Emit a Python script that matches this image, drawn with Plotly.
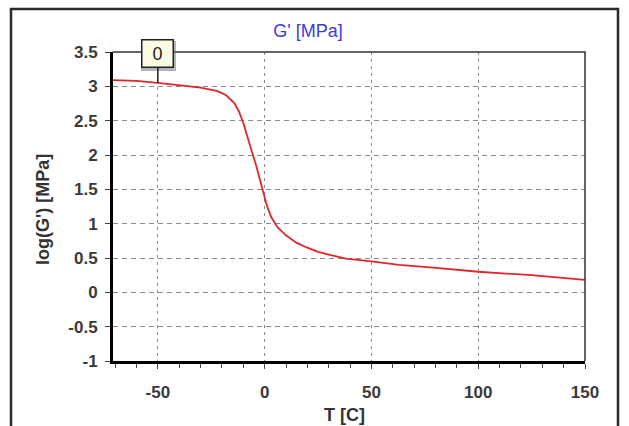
import plotly.graph_objects as go

# Storage modulus vs temperature
temperature_c = [-71, -60, -50, -40, -30, -22, -18, -14, -12, -10, -8, -6, -4, -2, 0, 1, 3, 6,
                 10, 15, 20, 25, 30, 38, 50, 63, 79, 100, 125, 150]
log_g_mpa = [3.09, 3.08, 3.05, 3.02, 2.98, 2.93, 2.87, 2.75, 2.63, 2.47, 2.25, 2.05, 1.85, 1.63,
             1.40, 1.27, 1.10, 0.95, 0.83, 0.72, 0.65, 0.59, 0.55, 0.49, 0.45, 0.40, 0.36, 0.30,
             0.25, 0.18]

x_ticks = [-50, 0, 50, 100, 150]
y_ticks = [-1, -0.5, 0, 0.5, 1, 1.5, 2, 2.5, 3, 3.5]
x_range = [-71, 150]
y_range = [-1, 3.5]

# cursor marker
cursor_t = -50
cursor_label = "0"

W, H = 629, 426
ML, MR, MT, MB = 113, 44, 52, 65
PW, PH = W - ML - MR, H - MT - MB
FONT = "Liberation Sans, Arial, sans-serif"


def px_to_paper(px, py):
    return (px - ML) / PW, (H - MB - py) / PH


def value_at(t):
    for i in range(len(temperature_c) - 1):
        t0, t1 = temperature_c[i], temperature_c[i + 1]
        if t0 <= t <= t1:
            f = (t - t0) / (t1 - t0)
            return log_g_mpa[i] + f * (log_g_mpa[i + 1] - log_g_mpa[i])
    return log_g_mpa[-1]


fig = go.Figure()
fig.add_trace(go.Scatter(
    x=temperature_c, y=log_g_mpa, mode="lines",
    line=dict(color="#e0262b", width=1.8),
    hoverinfo="skip", showlegend=False,
))

tick_font = dict(family=FONT, size=17, color="#3a3a3a", weight="bold")
title_font = dict(family=FONT, size=18, color="#333333", weight="bold")

shapes = []
# outer window frame (open at the bottom)
fx0, fy0 = px_to_paper(11, 9)
fx1, _ = px_to_paper(618, 9)
_, fyb = px_to_paper(11, 440)
shapes.append(dict(type="path", xref="paper", yref="paper",
                   path=f"M {fx0},{fyb} L {fx0},{fy0} L {fx1},{fy0} L {fx1},{fyb}",
                   line=dict(color="#2b2b2b", width=2.5)))
# thin top and right borders of the plot area
shapes.append(dict(type="path", xref="paper", yref="paper",
                   path="M 0,1 L 1,1 L 1,0",
                   line=dict(color="#333333", width=1.5)))

# cursor box shadow
bx0, by0 = px_to_paper(141, 41)
bx1, by1 = px_to_paper(176, 71)
shapes.append(dict(type="rect", xref="paper", yref="paper",
                   x0=bx0, y0=by1, x1=bx1, y1=by0,
                   fillcolor="rgba(90,90,90,0.45)", line=dict(width=0)))

tx, ty = px_to_paper(344, 415)
lx, ly = px_to_paper(43, 210)

fig.update_layout(
    width=W, height=H,
    margin=dict(l=ML, r=MR, t=MT, b=MB),
    paper_bgcolor="white", plot_bgcolor="white",
    title=dict(text="G' [MPa]", x=308 / W, xanchor="center", xref="container",
               y=1 - 31 / H, yanchor="middle", yref="container",
               font=dict(family=FONT, size=18, color="#3c3cd8")),
    shapes=shapes,
    annotations=[
        dict(x=cursor_t, y=value_at(cursor_t), xref="x", yref="y",
             text=cursor_label, showarrow=True, arrowhead=0, arrowwidth=1.5,
             arrowcolor="#222222", ax=0, ay=-29, standoff=0,
             bgcolor="#fbfbe3", bordercolor="#222222", borderwidth=1.5,
             width=30, height=26, borderpad=0,
             font=dict(family=FONT, size=18, color="#222222")),
        dict(x=tx, y=ty, xref="paper", yref="paper", text="T [C]", showarrow=False,
             xanchor="center", yanchor="middle", font=title_font),
        dict(x=lx, y=ly, xref="paper", yref="paper", text="log(G') [MPa]", showarrow=False,
             xanchor="center", yanchor="middle", textangle=-90, font=title_font),
    ],
    xaxis=dict(
        range=x_range, tickvals=x_ticks, ticktext=[str(v) for v in x_ticks],
        showline=True, linecolor="black", linewidth=3,
        ticks="outside", ticklen=5, tickcolor="#444444", tickwidth=1,
        minor=dict(dtick=10, tick0=0, ticks="outside", ticklen=4, tickcolor="#444444",
                   showgrid=False),
        showgrid=True, gridcolor="#8a8a8a", gridwidth=1.3, griddash="3px,4px",
        zeroline=False, tickfont=tick_font, ticklabelstandoff=9,
    ),
    yaxis=dict(
        range=y_range, tickvals=y_ticks, ticktext=[f"{v:g}" for v in y_ticks],
        showline=True, linecolor="black", linewidth=3,
        ticks="outside", ticklen=5, tickcolor="#444444", tickwidth=1,
        showgrid=True, gridcolor="#8a8a8a", gridwidth=1.3, griddash="5px,4px",
        zeroline=False, tickfont=tick_font, ticklabelstandoff=4,
    ),
)

fig.write_html("out.html")
